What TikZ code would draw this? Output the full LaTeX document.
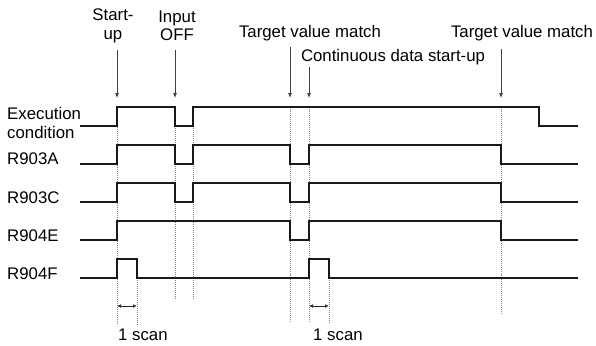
\documentclass[tikz,border=0pt]{standalone}
\usepackage{fontspec}
\setmainfont{Liberation Sans}
\usetikzlibrary{arrows.meta}
\begin{document}
\begin{tikzpicture}[x=1pt,y=-1pt,
  sigline/.style={black!90,line width=1.5pt,line join=miter},
  guideline/.style={black!50,densely dotted,line width=1pt},
  eventarrow/.style={black!75,line width=0.8pt,-{Latex[length=5pt,width=4pt]}},
  scanarrow/.style={black!85,line width=0.7pt,{Latex[length=4pt,width=3.5pt]}-{Latex[length=4pt,width=3.5pt]}},
  lbl/.style={font=\fontsize{16.8}{18.5}\selectfont,inner sep=0pt}]
\useasboundingbox (0,0) rectangle (596,345);
% guide lines
\draw[guideline] (117,107) -- (117,325);
\draw[guideline] (137,278) -- (137,325);
\draw[guideline] (175,126) -- (175,300);
\draw[guideline] (193,126) -- (193,300);
\draw[guideline] (290,107) -- (290,323);
\draw[guideline] (309,107) -- (309,323);
\draw[guideline] (329,278) -- (329,323);
\draw[guideline] (501,107) -- (501,314);
% signals
\draw[sigline] (80,126) -- (117,126) -- (117,107) -- (175,107) -- (175,126) -- (193,126) -- (193,107) -- (539,107) -- (539,126) -- (578,126);
\draw[sigline] (80,164) -- (117,164) -- (117,145) -- (175,145) -- (175,164) -- (193,164) -- (193,145) -- (290,145) -- (290,164) -- (309,164) -- (309,145) -- (501,145) -- (501,164) -- (578,164);
\draw[sigline] (80,202) -- (117,202) -- (117,183) -- (175,183) -- (175,202) -- (193,202) -- (193,183) -- (290,183) -- (290,202) -- (309,202) -- (309,183) -- (501,183) -- (501,202) -- (578,202);
\draw[sigline] (80,240) -- (117,240) -- (117,221) -- (290,221) -- (290,240) -- (309,240) -- (309,221) -- (501,221) -- (501,240) -- (578,240);
\draw[sigline] (80,278) -- (117,278) -- (117,259) -- (137,259) -- (137,278) -- (309,278) -- (309,259) -- (329,259) -- (329,278) -- (578,278);
% signal names
\node[lbl,anchor=west,align=left] (exec) at (7,123) {Execution\\condition};
\node[lbl,anchor=west] (r903a) at (7,159) {R903A};
\node[lbl,anchor=west] (r903c) at (7,198) {R903C};
\node[lbl,anchor=west] (r904e) at (7,236) {R904E};
\node[lbl,anchor=west] (r904f) at (7,274) {R904F};
% events
\node[lbl,align=center] (startup) at (113,26) {Start-\\up};
\node[lbl,align=center] (inputoff) at (177,26) {Input\\OFF};
\node[lbl] (match1) at (310,33) {Target value match};
\node[lbl] (contstart) at (393,57) {Continuous data start-up};
\node[lbl] (match2) at (522,33) {Target value match};
\coordinate (a1) at (117,50);  \coordinate (t1) at (117,98);
\coordinate (a2) at (175,50);  \coordinate (t2) at (175,98);
\coordinate (a3) at (290,47);  \coordinate (t3) at (290,98);
\coordinate (a4) at (309,67);  \coordinate (t4) at (309,98);
\coordinate (a5) at (501,49);  \coordinate (t5) at (501,98);
\draw[eventarrow] (a1) -- (t1);
\draw[eventarrow] (a2) -- (t2);
\draw[eventarrow] (a3) -- (t3);
\draw[eventarrow] (a4) -- (t4);
\draw[eventarrow] (a5) -- (t5);
% scan widths
\coordinate (s1) at (117,306); \coordinate (s2) at (137,306);
\coordinate (s3) at (309,306); \coordinate (s4) at (329,306);
\draw[scanarrow] (s1) -- (s2);
\draw[scanarrow] (s3) -- (s4);
\node[lbl,anchor=west] (scan1) at (118,335) {1 scan};
\node[lbl,anchor=west] (scan2) at (313,335) {1 scan};
\end{tikzpicture}
\end{document}
